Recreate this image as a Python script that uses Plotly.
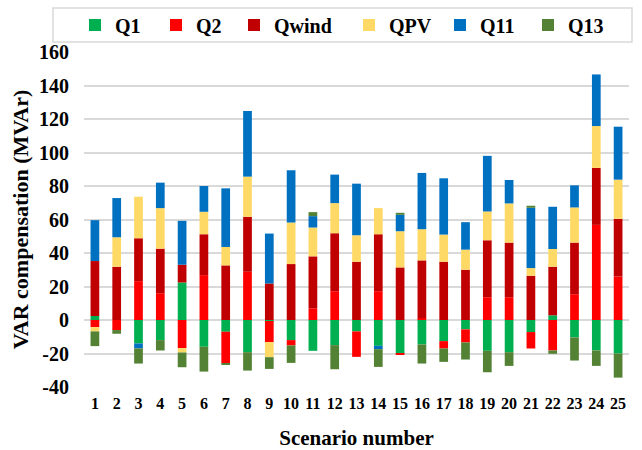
import plotly.graph_objects as go

scenarios = [str(i) for i in range(1, 26)]

q1 = [2.4, 0, -14, -12, 22.4, -16, -7, -19.2, -0.6, -12, -18.4, -15, -6.8,
      -15.4, -20, -14.6, -12.6, -5.6, -18.4, -19.2, -7.2, 2.8, -10.4, -18.2, -20]
q2 = [-4.2, -6, 23.2, 16, -16.8, 26.8, -18.8, 28.8, -12.6, -3.2, 7, 17.2, -15.2,
      17.2, -0.8, 1, -4.4, -7.8, 13.6, 13.6, -9.8, -18.2, 15.4, 56.8, 26]
qwind = [32.8, 31.8, 25.6, 26.6, 10.6, 24.4, 32.6, 32.8, 21.8, 33.4, 31, 34.6, 34.8,
         34, 31.4, 34.6, 34.8, 30, 34, 32.6, 26.4, 29, 30.8, 34, 34.4]
qpv = [-2.6, 17.6, 24.8, 24.2, -2.6, 13.4, 11, 24, -9, 24.8, 17.2, 18, 15.8,
       15.6, 21.6, 18.6, 16.2, 12, 17.2, 23.4, 4.6, 10.6, 21, 25, 23.4]
q11 = [24.4, 23.4, -3, 15.2, 26.2, 15.4, 35, 39.2, 29.8, 31.2, 6.8, 17, 30.8,
       -2, 9.8, 33.6, 33.6, 16.4, 33.2, 14, 36, 25.2, 13.2, 30.8, 31.6]
q13 = [-8.8, -2.2, -9, -6.2, -8.8, -14.8, -1, -11, -7, -10.4, 2.4, -14.4, 0,
       -10.6, 1.2, -11.4, -8, -10.2, -12.8, -8.2, 1.2, -2, -13.8, -9.2, -14.4]

series_names = ["Q1", "Q2", "Qwind", "QPV", "Q11", "Q13"]
series_values = [q1, q2, qwind, qpv, q11, q13]
series_colors = ["#00B050", "#FF0000", "#C00000", "#FFD966", "#0070C0", "#548235"]
legend_widths = [36, 33, 70, 46, 43, 50]

y_tick_vals = [-40, -20, 0, 20, 40, 60, 80, 100, 120, 140, 160]
y_tick_text = ["-40", "-20", "0", "20", "40", "60", "80", "100", "120", "140", "160"]

FONT = "Liberation Serif"

fig = go.Figure()
for name, vals, col, lw in zip(series_names, series_values, series_colors, legend_widths):
    fig.add_trace(go.Bar(x=scenarios, y=vals, name=name, marker_color=col,
                         marker_line_width=0, legendwidth=lw))

fig.update_layout(
    width=642, height=450,
    margin=dict(l=84, r=13, t=52, b=63, autoexpand=False),
    barmode="relative", bargap=0.6,
    paper_bgcolor="white", plot_bgcolor="white",
    font=dict(family=FONT, color="black", weight="bold"),
    showlegend=True,
    legend=dict(orientation="h",
                x=(75 - 84) / 545, xanchor="left",
                y=(387 - 25) / 335, yanchor="middle",
                font=dict(family=FONT, size=20, color="black", weight="bold"),
                bgcolor="rgba(0,0,0,0)", borderwidth=0, traceorder="normal"),
    shapes=[dict(type="rect", xref="paper", yref="paper",
                 x0=(53 - 84) / 545, x1=(632 - 84) / 545,
                 y0=(387 - 42) / 335, y1=(387 - 8) / 335,
                 line=dict(color="#D9D9D9", width=1.5), fillcolor="rgba(0,0,0,0)")],
)

fig.update_xaxes(type="category", showgrid=False, zeroline=False, showline=False,
                 ticks="", tickangle=0, automargin=False,
                 tickfont=dict(family=FONT, size=16, color="black", weight="bold"),
                 ticklabelstandoff=5,
                 title=dict(text="Scenario number", standoff=21,
                            font=dict(family=FONT, size=21, color="black", weight="bold")))
fig.update_yaxes(range=[-40, 160], tickvals=y_tick_vals, ticktext=y_tick_text,
                 showgrid=True, gridcolor="#D9D9D9", gridwidth=1.5,
                 zeroline=False, showline=False, ticks="", automargin=False,
                 tickfont=dict(family=FONT, size=20, color="black", weight="bold"),
                 ticklabelstandoff=14,
                 title=dict(text="VAR compensation (MVAr)", standoff=4,
                            font=dict(family=FONT, size=22, color="black", weight="bold")))

fig.write_html("out.html", config={"displayModeBar": False},
               post_script="document.body.style.margin='0';")
